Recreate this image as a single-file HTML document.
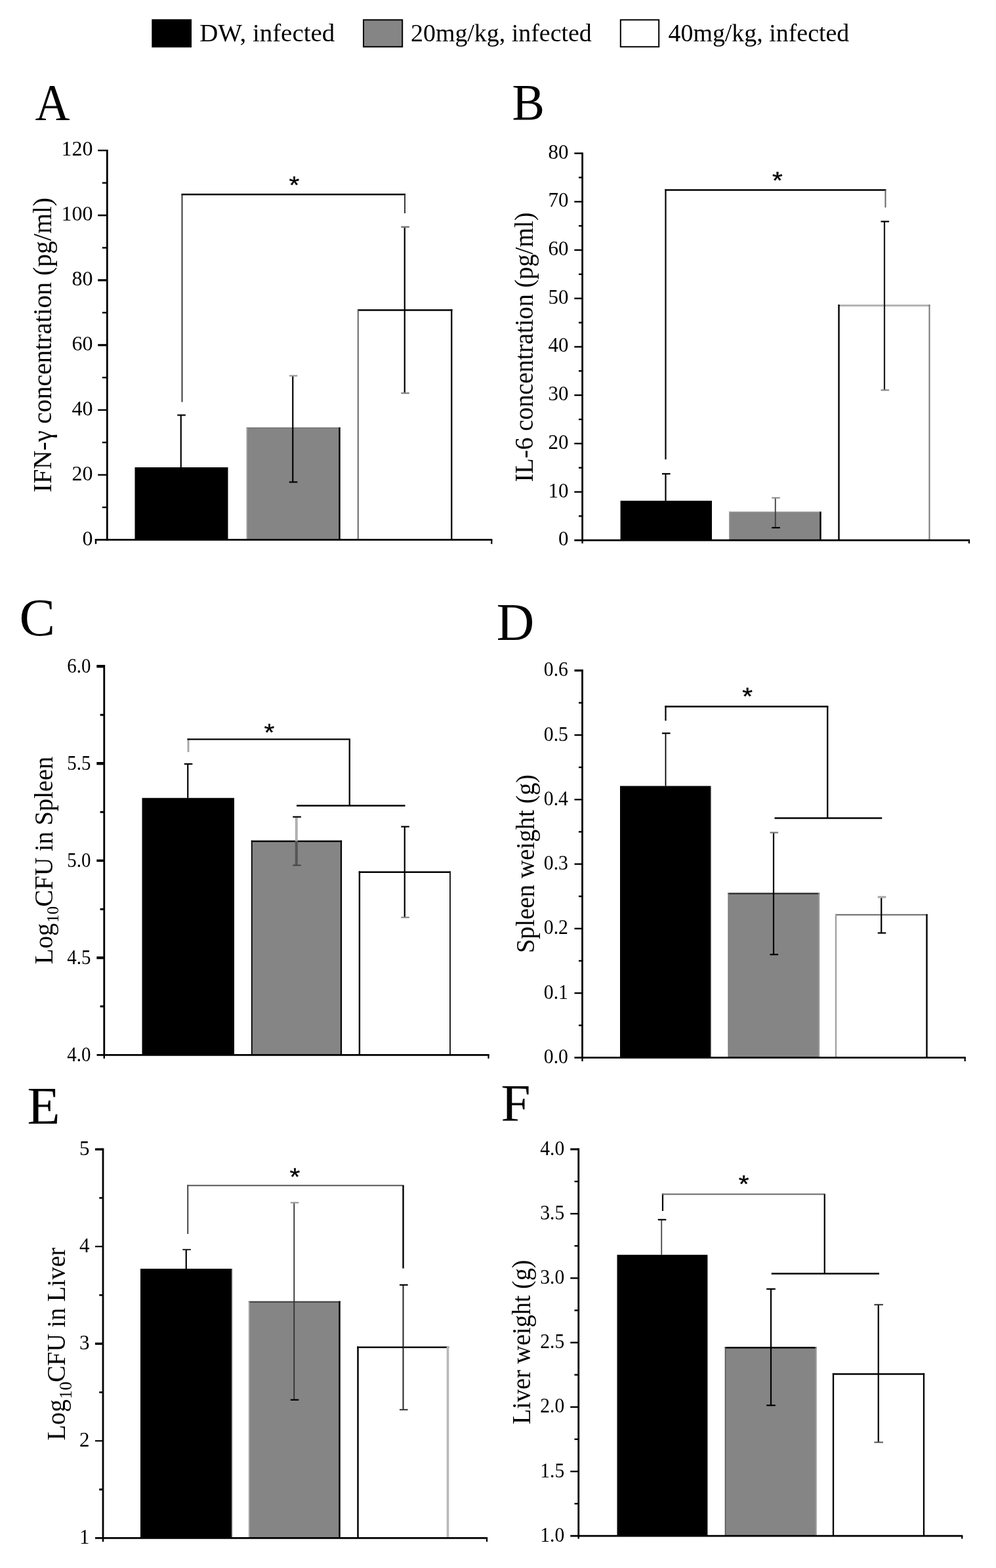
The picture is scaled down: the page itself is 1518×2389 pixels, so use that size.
<!DOCTYPE html>
<html lang="en">
<head>
<meta charset="utf-8">
<title>Figure: cytokine concentrations, bacterial load and organ weights</title>
<style>
html,body{margin:0;padding:0;background:#fff;}
body{width:1518px;height:2389px;overflow:hidden;}
svg{display:block;}
svg text{font-family:"Liberation Serif", serif;fill:#000;}
svg text.st{font-family:"Liberation Sans", sans-serif;stroke:#000;stroke-width:0.4px;}
</style>
</head>
<body>
<svg role="img" aria-label="Bar charts A to F" width="1518" height="2389" viewBox="0 0 1518 2389">
<defs>
<filter id="soft" filterUnits="userSpaceOnUse" x="0" y="0" width="1518" height="2389"><feGaussianBlur stdDeviation="0.5"/></filter>
</defs>
<rect x="0" y="0" width="1518" height="2389" fill="#fff"/>
<g filter="url(#soft)">
<!-- legend -->
<rect x="231.30" y="29.30" width="60.70" height="43.00" fill="#000"/>
<rect x="554.00" y="30.30" width="59.20" height="41.00" fill="#858585" stroke="#000" stroke-width="2"/>
<rect x="945.80" y="30.30" width="58.40" height="41.00" fill="#fff" stroke="#000" stroke-width="2"/>
<text x="304.20" y="63.40" font-size="38.5" textLength="206.0" lengthAdjust="spacingAndGlyphs">DW, infected</text>
<text x="626.00" y="63.40" font-size="38.5" textLength="275.8" lengthAdjust="spacingAndGlyphs">20mg/kg, infected</text>
<text x="1018.50" y="63.40" font-size="38.5" textLength="275.8" lengthAdjust="spacingAndGlyphs">40mg/kg, infected</text>
<!-- panel letters -->
<text x="53.50" y="182.30" font-size="79" textLength="53.0" lengthAdjust="spacingAndGlyphs">A</text>
<text x="780.40" y="182.30" font-size="78" textLength="49.5" lengthAdjust="spacingAndGlyphs">B</text>
<text x="29.40" y="968.10" font-size="80" textLength="54.5" lengthAdjust="spacingAndGlyphs">C</text>
<text x="756.70" y="975.40" font-size="80" textLength="57.5" lengthAdjust="spacingAndGlyphs">D</text>
<text x="41.40" y="1712.00" font-size="80" textLength="50.0" lengthAdjust="spacingAndGlyphs">E</text>
<text x="763.40" y="1708.00" font-size="80" textLength="45.0" lengthAdjust="spacingAndGlyphs">F</text>
<!-- chart A -->
<rect x="205.50" y="712.00" width="142.00" height="110.40" fill="#000"/>
<rect x="376.25" y="652.00" width="141.25" height="170.40" fill="#858585"/>
<line x1="375.45" y1="652.00" x2="518.70" y2="652.00" stroke="#6e6e6e" stroke-width="1.6"/>
<line x1="376.25" y1="651.20" x2="376.25" y2="822.40" stroke="#a8a8a8" stroke-width="1.6"/>
<line x1="517.50" y1="651.20" x2="517.50" y2="822.40" stroke="#000" stroke-width="2.4"/>
<rect x="545.75" y="472.50" width="142.50" height="349.90" fill="#fff"/>
<line x1="544.85" y1="472.50" x2="689.40" y2="472.50" stroke="#000" stroke-width="2.3"/>
<line x1="545.75" y1="471.35" x2="545.75" y2="822.40" stroke="#5a5a5a" stroke-width="1.8"/>
<line x1="688.25" y1="471.35" x2="688.25" y2="822.40" stroke="#000" stroke-width="2.3"/>
<line x1="149.20" y1="229.20" x2="163.30" y2="229.20" stroke="#000" stroke-width="2.4"/>
<line x1="155.80" y1="278.63" x2="163.30" y2="278.63" stroke="#000" stroke-width="2.4"/>
<text x="141.60" y="237.40" font-size="32" text-anchor="end">120</text>
<line x1="149.20" y1="328.07" x2="163.30" y2="328.07" stroke="#000" stroke-width="2.6"/>
<line x1="155.80" y1="377.50" x2="163.30" y2="377.50" stroke="#000" stroke-width="2.4"/>
<text x="141.60" y="336.27" font-size="32" text-anchor="end">100</text>
<line x1="149.20" y1="426.93" x2="163.30" y2="426.93" stroke="#000" stroke-width="3.2"/>
<line x1="155.80" y1="476.37" x2="163.30" y2="476.37" stroke="#000" stroke-width="2.4"/>
<text x="141.60" y="435.13" font-size="32" text-anchor="end">80</text>
<line x1="149.20" y1="525.80" x2="163.30" y2="525.80" stroke="#000" stroke-width="3.2"/>
<line x1="155.80" y1="575.23" x2="163.30" y2="575.23" stroke="#000" stroke-width="2.4"/>
<text x="141.60" y="534.00" font-size="32" text-anchor="end">60</text>
<line x1="149.20" y1="624.67" x2="163.30" y2="624.67" stroke="#000" stroke-width="2.4"/>
<line x1="155.80" y1="674.10" x2="163.30" y2="674.10" stroke="#000" stroke-width="2.4"/>
<text x="141.60" y="632.87" font-size="32" text-anchor="end">40</text>
<line x1="149.20" y1="723.53" x2="163.30" y2="723.53" stroke="#000" stroke-width="2.4"/>
<line x1="155.80" y1="772.97" x2="163.30" y2="772.97" stroke="#000" stroke-width="2.4"/>
<text x="141.60" y="731.73" font-size="32" text-anchor="end">20</text>
<text x="141.60" y="830.60" font-size="32" text-anchor="end">0</text>
<line x1="163.30" y1="228.00" x2="163.30" y2="823.70" stroke="#000" stroke-width="2.8"/>
<line x1="144.80" y1="822.40" x2="750.35" y2="822.40" stroke="#000" stroke-width="2.7"/>
<line x1="749.25" y1="822.40" x2="749.25" y2="828.80" stroke="#000" stroke-width="2.2"/>
<line x1="146.00" y1="822.40" x2="146.00" y2="828.80" stroke="#000" stroke-width="2.4"/>
<text transform="translate(77.50,750.30) rotate(-90)" font-size="40.5" textLength="449.3" lengthAdjust="spacingAndGlyphs">IFN-γ concentration (pg/ml)</text>
<line x1="275.75" y1="632.50" x2="275.75" y2="712.00" stroke="#000" stroke-width="2.2"/>
<line x1="270.25" y1="632.50" x2="282.85" y2="632.50" stroke="#000" stroke-width="2.2"/>
<line x1="446.25" y1="572.50" x2="446.25" y2="734.50" stroke="#000" stroke-width="2.2"/>
<line x1="440.75" y1="572.50" x2="453.35" y2="572.50" stroke="#9a9a9a" stroke-width="2.2"/>
<line x1="440.75" y1="734.50" x2="453.35" y2="734.50" stroke="#000" stroke-width="2.2"/>
<line x1="616.75" y1="345.75" x2="616.75" y2="599.00" stroke="#000" stroke-width="2.2"/>
<line x1="611.25" y1="345.75" x2="623.85" y2="345.75" stroke="#777" stroke-width="2.4"/>
<line x1="611.25" y1="599.00" x2="623.85" y2="599.00" stroke="#888" stroke-width="2.4"/>
<line x1="277.50" y1="295.10" x2="277.50" y2="612.50" stroke="#2a2a2a" stroke-width="1.8"/>
<line x1="276.60" y1="296.25" x2="618.10" y2="296.25" stroke="#000" stroke-width="2.3"/>
<line x1="617.00" y1="296.25" x2="617.00" y2="325.00" stroke="#3a3a3a" stroke-width="2"/>
<text x="448.40" y="295.20" font-size="36" text-anchor="middle" textLength="15.8" lengthAdjust="spacingAndGlyphs" class="st">*</text>
<!-- chart B -->
<rect x="945.60" y="762.90" width="139.40" height="60.30" fill="#000"/>
<rect x="1111.80" y="780.40" width="138.70" height="42.80" fill="#858585"/>
<line x1="1111.00" y1="780.40" x2="1251.70" y2="780.40" stroke="#8e8e8e" stroke-width="1.6"/>
<line x1="1111.80" y1="779.60" x2="1111.80" y2="823.20" stroke="#9a9a9a" stroke-width="1.6"/>
<line x1="1250.50" y1="779.60" x2="1250.50" y2="823.20" stroke="#000" stroke-width="2.4"/>
<rect x="1278.50" y="465.50" width="138.00" height="357.70" fill="#fff"/>
<line x1="1277.30" y1="465.50" x2="1417.50" y2="465.50" stroke="#b4b4b4" stroke-width="3"/>
<line x1="1278.50" y1="464.00" x2="1278.50" y2="823.20" stroke="#000" stroke-width="2.4"/>
<line x1="1416.50" y1="464.00" x2="1416.50" y2="823.20" stroke="#777" stroke-width="2"/>
<line x1="875.30" y1="233.60" x2="887.60" y2="233.60" stroke="#000" stroke-width="2.4"/>
<line x1="882.00" y1="270.45" x2="887.60" y2="270.45" stroke="#000" stroke-width="2.4"/>
<text x="866.60" y="241.60" font-size="31" text-anchor="end">80</text>
<line x1="875.30" y1="307.30" x2="887.60" y2="307.30" stroke="#000" stroke-width="2.4"/>
<line x1="882.00" y1="344.15" x2="887.60" y2="344.15" stroke="#000" stroke-width="2.4"/>
<text x="866.60" y="315.30" font-size="31" text-anchor="end">70</text>
<line x1="875.30" y1="381.00" x2="887.60" y2="381.00" stroke="#000" stroke-width="2.4"/>
<line x1="882.00" y1="417.85" x2="887.60" y2="417.85" stroke="#000" stroke-width="2.4"/>
<text x="866.60" y="389.00" font-size="31" text-anchor="end">60</text>
<line x1="875.30" y1="454.70" x2="887.60" y2="454.70" stroke="#000" stroke-width="2.4"/>
<line x1="882.00" y1="491.55" x2="887.60" y2="491.55" stroke="#000" stroke-width="2.4"/>
<text x="866.60" y="462.70" font-size="31" text-anchor="end">50</text>
<line x1="875.30" y1="528.40" x2="887.60" y2="528.40" stroke="#000" stroke-width="2.4"/>
<line x1="882.00" y1="565.25" x2="887.60" y2="565.25" stroke="#000" stroke-width="2.4"/>
<text x="866.60" y="536.40" font-size="31" text-anchor="end">40</text>
<line x1="875.30" y1="602.10" x2="887.60" y2="602.10" stroke="#000" stroke-width="2.4"/>
<line x1="882.00" y1="638.95" x2="887.60" y2="638.95" stroke="#000" stroke-width="2.4"/>
<text x="866.60" y="610.10" font-size="31" text-anchor="end">30</text>
<line x1="875.30" y1="675.80" x2="887.60" y2="675.80" stroke="#000" stroke-width="2.4"/>
<line x1="882.00" y1="712.65" x2="887.60" y2="712.65" stroke="#000" stroke-width="2.4"/>
<text x="866.60" y="683.80" font-size="31" text-anchor="end">20</text>
<line x1="875.30" y1="749.50" x2="887.60" y2="749.50" stroke="#000" stroke-width="2.4"/>
<line x1="882.00" y1="786.35" x2="887.60" y2="786.35" stroke="#000" stroke-width="2.4"/>
<text x="866.60" y="757.50" font-size="31" text-anchor="end">10</text>
<text x="866.60" y="831.20" font-size="31" text-anchor="end">0</text>
<line x1="887.60" y1="232.40" x2="887.60" y2="824.50" stroke="#000" stroke-width="2.8"/>
<line x1="875.30" y1="823.20" x2="1478.10" y2="823.20" stroke="#000" stroke-width="2.7"/>
<line x1="1477.00" y1="823.20" x2="1477.00" y2="828.00" stroke="#000" stroke-width="2.2"/>
<line x1="887.60" y1="823.20" x2="887.60" y2="828.00" stroke="#000" stroke-width="2.4"/>
<text transform="translate(812.30,734.50) rotate(-90)" font-size="39" textLength="411.0" lengthAdjust="spacingAndGlyphs">IL-6 concentration (pg/ml)</text>
<line x1="1014.50" y1="721.90" x2="1014.50" y2="762.90" stroke="#000" stroke-width="2.2"/>
<line x1="1009.00" y1="721.90" x2="1021.60" y2="721.90" stroke="#000" stroke-width="2.2"/>
<line x1="1181.75" y1="758.50" x2="1181.75" y2="804.00" stroke="#3a3a3a" stroke-width="1.8"/>
<line x1="1176.25" y1="758.50" x2="1188.85" y2="758.50" stroke="#888" stroke-width="2"/>
<line x1="1176.25" y1="804.00" x2="1188.85" y2="804.00" stroke="#000" stroke-width="2.2"/>
<line x1="1348.00" y1="337.50" x2="1348.00" y2="594.40" stroke="#1a1a1a" stroke-width="2.2"/>
<line x1="1342.50" y1="337.50" x2="1355.10" y2="337.50" stroke="#000" stroke-width="2.2"/>
<line x1="1342.50" y1="594.40" x2="1355.10" y2="594.40" stroke="#888" stroke-width="2.2"/>
<line x1="1014.50" y1="288.40" x2="1014.50" y2="700.00" stroke="#000" stroke-width="2.2"/>
<line x1="1013.40" y1="289.50" x2="1350.50" y2="289.50" stroke="#000" stroke-width="2.3"/>
<line x1="1349.50" y1="289.50" x2="1349.50" y2="316.25" stroke="#666" stroke-width="2"/>
<text x="1185.00" y="287.70" font-size="36" text-anchor="middle" textLength="15.8" lengthAdjust="spacingAndGlyphs" class="st">*</text>
<!-- chart C -->
<rect x="216.50" y="1215.75" width="140.50" height="391.55" fill="#000"/>
<rect x="383.75" y="1281.70" width="136.25" height="325.60" fill="#858585"/>
<line x1="382.85" y1="1281.70" x2="521.10" y2="1281.70" stroke="#000" stroke-width="2.4"/>
<line x1="383.75" y1="1280.50" x2="383.75" y2="1607.30" stroke="#000" stroke-width="1.8"/>
<line x1="520.00" y1="1280.50" x2="520.00" y2="1607.30" stroke="#000" stroke-width="2.2"/>
<rect x="547.90" y="1328.80" width="138.10" height="278.50" fill="#fff"/>
<line x1="546.70" y1="1328.80" x2="687.00" y2="1328.80" stroke="#000" stroke-width="2.4"/>
<line x1="547.90" y1="1327.60" x2="547.90" y2="1607.30" stroke="#000" stroke-width="2.4"/>
<line x1="686.00" y1="1327.60" x2="686.00" y2="1607.30" stroke="#222" stroke-width="2"/>
<line x1="147.30" y1="1015.20" x2="158.75" y2="1015.20" stroke="#000" stroke-width="4.4"/>
<line x1="152.60" y1="1089.21" x2="158.75" y2="1089.21" stroke="#000" stroke-width="3"/>
<text x="138.40" y="1025.20" font-size="30.5" text-anchor="end" textLength="36.2" lengthAdjust="spacingAndGlyphs">6.0</text>
<line x1="147.30" y1="1163.22" x2="158.75" y2="1163.22" stroke="#000" stroke-width="4.4"/>
<line x1="152.60" y1="1237.24" x2="158.75" y2="1237.24" stroke="#000" stroke-width="3"/>
<text x="138.40" y="1172.52" font-size="30.5" text-anchor="end" textLength="36.2" lengthAdjust="spacingAndGlyphs">5.5</text>
<line x1="147.30" y1="1311.25" x2="158.75" y2="1311.25" stroke="#000" stroke-width="3.6"/>
<line x1="152.60" y1="1385.26" x2="158.75" y2="1385.26" stroke="#000" stroke-width="3"/>
<text x="138.40" y="1320.75" font-size="30.5" text-anchor="end" textLength="36.2" lengthAdjust="spacingAndGlyphs">5.0</text>
<line x1="147.30" y1="1459.28" x2="158.75" y2="1459.28" stroke="#000" stroke-width="4"/>
<line x1="152.60" y1="1533.29" x2="158.75" y2="1533.29" stroke="#000" stroke-width="3"/>
<text x="138.40" y="1468.88" font-size="30.5" text-anchor="end" textLength="36.2" lengthAdjust="spacingAndGlyphs">4.5</text>
<text x="138.40" y="1617.30" font-size="30.5" text-anchor="end" textLength="36.2" lengthAdjust="spacingAndGlyphs">4.0</text>
<line x1="158.75" y1="1013.00" x2="158.75" y2="1608.60" stroke="#000" stroke-width="2.8"/>
<line x1="147.50" y1="1607.30" x2="745.60" y2="1607.30" stroke="#000" stroke-width="2.7"/>
<line x1="744.50" y1="1607.30" x2="744.50" y2="1612.80" stroke="#000" stroke-width="2.2"/>
<line x1="158.75" y1="1607.30" x2="158.75" y2="1612.80" stroke="#000" stroke-width="2.4"/>
<text transform="translate(79.80,1468.90) rotate(-90)" font-size="40.5" textLength="62.3" lengthAdjust="spacingAndGlyphs">Log</text>
<text transform="translate(89.10,1405.80) rotate(-90)" font-size="26" textLength="25.0" lengthAdjust="spacingAndGlyphs">10</text>
<text transform="translate(79.80,1381.40) rotate(-90)" font-size="40.5" textLength="228.6" lengthAdjust="spacingAndGlyphs">CFU in Spleen</text>
<line x1="286.25" y1="1164.00" x2="286.25" y2="1215.75" stroke="#000" stroke-width="2.2"/>
<line x1="280.75" y1="1164.00" x2="293.35" y2="1164.00" stroke="#000" stroke-width="2.2"/>
<line x1="451.75" y1="1244.60" x2="451.75" y2="1281.70" stroke="#b0b0b0" stroke-width="4"/>
<line x1="451.75" y1="1281.70" x2="451.75" y2="1318.40" stroke="#555" stroke-width="4"/>
<line x1="451.75" y1="1244.60" x2="451.75" y2="1318.40" stroke="none" stroke-width="0"/>
<line x1="446.25" y1="1244.60" x2="458.85" y2="1244.60" stroke="#000" stroke-width="2.2"/>
<line x1="446.25" y1="1318.40" x2="458.85" y2="1318.40" stroke="#444" stroke-width="2"/>
<line x1="616.75" y1="1259.50" x2="616.75" y2="1397.75" stroke="#000" stroke-width="2.2"/>
<line x1="611.25" y1="1259.50" x2="623.85" y2="1259.50" stroke="#000" stroke-width="2.2"/>
<line x1="611.25" y1="1397.75" x2="623.85" y2="1397.75" stroke="#888" stroke-width="2.2"/>
<line x1="287.00" y1="1125.20" x2="287.00" y2="1145.80" stroke="#aaa" stroke-width="3"/>
<line x1="285.50" y1="1126.30" x2="533.90" y2="1126.30" stroke="#000" stroke-width="2.3"/>
<line x1="532.75" y1="1126.30" x2="532.75" y2="1227.50" stroke="#000" stroke-width="2.3"/>
<line x1="452.00" y1="1227.50" x2="617.50" y2="1227.50" stroke="#000" stroke-width="2.3"/>
<text x="410.50" y="1129.20" font-size="36" text-anchor="middle" textLength="15.8" lengthAdjust="spacingAndGlyphs" class="st">*</text>
<!-- chart D -->
<rect x="945.00" y="1197.50" width="138.00" height="413.90" fill="#000"/>
<line x1="1083.60" y1="1197.50" x2="1083.60" y2="1611.40" stroke="#999" stroke-width="1.2"/>
<rect x="1110.10" y="1361.40" width="138.15" height="250.00" fill="#858585"/>
<line x1="1109.40" y1="1361.40" x2="1249.25" y2="1361.40" stroke="#2a2a2a" stroke-width="2.2"/>
<line x1="1110.10" y1="1360.30" x2="1110.10" y2="1611.40" stroke="#777" stroke-width="1.4"/>
<line x1="1248.25" y1="1360.30" x2="1248.25" y2="1611.40" stroke="#9a9a9a" stroke-width="2"/>
<rect x="1274.00" y="1393.80" width="138.50" height="217.60" fill="#fff"/>
<line x1="1273.00" y1="1393.80" x2="1413.70" y2="1393.80" stroke="#666" stroke-width="2"/>
<line x1="1274.00" y1="1392.80" x2="1274.00" y2="1611.40" stroke="#999" stroke-width="2"/>
<line x1="1412.50" y1="1392.80" x2="1412.50" y2="1611.40" stroke="#000" stroke-width="2.4"/>
<line x1="875.50" y1="1021.60" x2="887.50" y2="1021.60" stroke="#000" stroke-width="3.2"/>
<line x1="882.00" y1="1070.75" x2="887.50" y2="1070.75" stroke="#000" stroke-width="2.4"/>
<text x="866.00" y="1030.20" font-size="31" text-anchor="end" textLength="37.2" lengthAdjust="spacingAndGlyphs">0.6</text>
<line x1="875.50" y1="1119.90" x2="887.50" y2="1119.90" stroke="#000" stroke-width="2.4"/>
<line x1="882.00" y1="1169.05" x2="887.50" y2="1169.05" stroke="#000" stroke-width="2.4"/>
<text x="866.00" y="1128.50" font-size="31" text-anchor="end" textLength="37.2" lengthAdjust="spacingAndGlyphs">0.5</text>
<line x1="875.50" y1="1218.20" x2="887.50" y2="1218.20" stroke="#000" stroke-width="2.4"/>
<line x1="882.00" y1="1267.35" x2="887.50" y2="1267.35" stroke="#000" stroke-width="2.4"/>
<text x="866.00" y="1226.80" font-size="31" text-anchor="end" textLength="37.2" lengthAdjust="spacingAndGlyphs">0.4</text>
<line x1="875.50" y1="1316.50" x2="887.50" y2="1316.50" stroke="#000" stroke-width="2.4"/>
<line x1="882.00" y1="1365.65" x2="887.50" y2="1365.65" stroke="#000" stroke-width="2.4"/>
<text x="866.00" y="1325.10" font-size="31" text-anchor="end" textLength="37.2" lengthAdjust="spacingAndGlyphs">0.3</text>
<line x1="875.50" y1="1414.80" x2="887.50" y2="1414.80" stroke="#000" stroke-width="2.4"/>
<line x1="882.00" y1="1463.95" x2="887.50" y2="1463.95" stroke="#000" stroke-width="2.4"/>
<text x="866.00" y="1423.40" font-size="31" text-anchor="end" textLength="37.2" lengthAdjust="spacingAndGlyphs">0.2</text>
<line x1="875.50" y1="1513.10" x2="887.50" y2="1513.10" stroke="#000" stroke-width="2.4"/>
<line x1="882.00" y1="1562.25" x2="887.50" y2="1562.25" stroke="#000" stroke-width="2.4"/>
<text x="866.00" y="1521.70" font-size="31" text-anchor="end" textLength="37.2" lengthAdjust="spacingAndGlyphs">0.1</text>
<text x="866.00" y="1620.00" font-size="31" text-anchor="end" textLength="37.2" lengthAdjust="spacingAndGlyphs">0.0</text>
<line x1="887.50" y1="1020.00" x2="887.50" y2="1612.70" stroke="#000" stroke-width="2.8"/>
<line x1="875.50" y1="1611.40" x2="1471.85" y2="1611.40" stroke="#000" stroke-width="2.7"/>
<line x1="1470.75" y1="1611.40" x2="1470.75" y2="1617.00" stroke="#000" stroke-width="2.2"/>
<line x1="887.50" y1="1611.40" x2="887.50" y2="1617.00" stroke="#000" stroke-width="2.4"/>
<text transform="translate(814.30,1452.00) rotate(-90)" font-size="39" textLength="272.0" lengthAdjust="spacingAndGlyphs">Spleen weight (g)</text>
<line x1="1014.50" y1="1117.20" x2="1014.50" y2="1197.50" stroke="#000" stroke-width="1.8"/>
<line x1="1009.00" y1="1117.20" x2="1021.60" y2="1117.20" stroke="#000" stroke-width="2.2"/>
<line x1="1179.00" y1="1268.50" x2="1179.00" y2="1454.30" stroke="#000" stroke-width="2.2"/>
<line x1="1173.50" y1="1268.50" x2="1186.10" y2="1268.50" stroke="#777" stroke-width="2.2"/>
<line x1="1173.50" y1="1454.30" x2="1186.10" y2="1454.30" stroke="#000" stroke-width="2.2"/>
<line x1="1343.25" y1="1366.75" x2="1343.25" y2="1421.50" stroke="#000" stroke-width="2.2"/>
<line x1="1337.75" y1="1366.75" x2="1350.35" y2="1366.75" stroke="#aaa" stroke-width="3.2"/>
<line x1="1337.75" y1="1421.50" x2="1350.35" y2="1421.50" stroke="#000" stroke-width="2.2"/>
<line x1="1014.50" y1="1075.40" x2="1014.50" y2="1098.00" stroke="#000" stroke-width="2.2"/>
<line x1="1013.40" y1="1076.50" x2="1262.40" y2="1076.50" stroke="#000" stroke-width="2.3"/>
<line x1="1261.25" y1="1076.50" x2="1261.25" y2="1246.50" stroke="#000" stroke-width="2.3"/>
<line x1="1180.50" y1="1246.50" x2="1344.25" y2="1246.50" stroke="#000" stroke-width="2.5"/>
<text x="1139.25" y="1073.70" font-size="36" text-anchor="middle" textLength="15.8" lengthAdjust="spacingAndGlyphs" class="st">*</text>
<!-- chart E -->
<rect x="214.00" y="1933.00" width="139.25" height="410.40" fill="#000"/>
<line x1="353.90" y1="1933.00" x2="353.90" y2="2343.40" stroke="#999" stroke-width="1.2"/>
<rect x="379.50" y="1983.50" width="138.00" height="359.90" fill="#858585"/>
<line x1="378.70" y1="1983.50" x2="518.75" y2="1983.50" stroke="#3a3a3a" stroke-width="1.9"/>
<line x1="379.50" y1="1982.55" x2="379.50" y2="2343.40" stroke="#b4b4b4" stroke-width="1.6"/>
<line x1="517.50" y1="1982.55" x2="517.50" y2="2343.40" stroke="#000" stroke-width="2.5"/>
<rect x="545.50" y="2052.75" width="137.00" height="290.65" fill="#fff"/>
<line x1="544.25" y1="2052.75" x2="684.30" y2="2052.75" stroke="#000" stroke-width="2.5"/>
<line x1="545.50" y1="2051.50" x2="545.50" y2="2343.40" stroke="#000" stroke-width="2.5"/>
<line x1="682.50" y1="2051.50" x2="682.50" y2="2343.40" stroke="#b8b8b8" stroke-width="3.6"/>
<line x1="145.00" y1="1751.10" x2="157.00" y2="1751.10" stroke="#000" stroke-width="3.4"/>
<line x1="151.25" y1="1825.14" x2="157.00" y2="1825.14" stroke="#000" stroke-width="2.6"/>
<text x="136.40" y="1760.10" font-size="31" text-anchor="end">5</text>
<line x1="145.00" y1="1899.17" x2="157.00" y2="1899.17" stroke="#000" stroke-width="2.2"/>
<line x1="151.25" y1="1973.21" x2="157.00" y2="1973.21" stroke="#000" stroke-width="2.6"/>
<text x="136.40" y="1908.17" font-size="31" text-anchor="end">4</text>
<line x1="145.00" y1="2047.25" x2="157.00" y2="2047.25" stroke="#000" stroke-width="3.4"/>
<line x1="151.25" y1="2121.29" x2="157.00" y2="2121.29" stroke="#000" stroke-width="2.6"/>
<text x="136.40" y="2056.25" font-size="31" text-anchor="end">3</text>
<line x1="145.00" y1="2195.32" x2="157.00" y2="2195.32" stroke="#000" stroke-width="2.2"/>
<line x1="151.25" y1="2269.36" x2="157.00" y2="2269.36" stroke="#000" stroke-width="3"/>
<text x="136.40" y="2204.32" font-size="31" text-anchor="end">2</text>
<text x="136.40" y="2352.40" font-size="31" text-anchor="end">1</text>
<line x1="157.00" y1="1749.40" x2="157.00" y2="2344.70" stroke="#000" stroke-width="2.8"/>
<line x1="145.00" y1="2343.40" x2="743.10" y2="2343.40" stroke="#000" stroke-width="2.7"/>
<line x1="742.00" y1="2343.40" x2="742.00" y2="2349.00" stroke="#000" stroke-width="2.2"/>
<line x1="157.00" y1="2343.40" x2="157.00" y2="2349.00" stroke="#000" stroke-width="2.4"/>
<text transform="translate(99.30,2194.50) rotate(-90)" font-size="40.5" textLength="62.3" lengthAdjust="spacingAndGlyphs">Log</text>
<text transform="translate(109.30,2131.60) rotate(-90)" font-size="28" textLength="26.5" lengthAdjust="spacingAndGlyphs">10</text>
<text transform="translate(99.30,2106.10) rotate(-90)" font-size="40.5" textLength="205.4" lengthAdjust="spacingAndGlyphs">CFU in Liver</text>
<line x1="283.75" y1="1903.90" x2="283.75" y2="1933.00" stroke="#000" stroke-width="2.2"/>
<line x1="278.25" y1="1903.90" x2="290.85" y2="1903.90" stroke="#222" stroke-width="2"/>
<line x1="448.25" y1="1832.40" x2="448.25" y2="2132.80" stroke="#333" stroke-width="1.8"/>
<line x1="442.75" y1="1832.40" x2="455.35" y2="1832.40" stroke="#999" stroke-width="2.2"/>
<line x1="442.75" y1="2132.80" x2="455.35" y2="2132.80" stroke="#000" stroke-width="2.2"/>
<line x1="614.50" y1="1957.70" x2="614.50" y2="2147.80" stroke="#222" stroke-width="2"/>
<line x1="609.00" y1="1957.70" x2="621.60" y2="1957.70" stroke="#000" stroke-width="2.2"/>
<line x1="609.00" y1="2147.80" x2="621.60" y2="2147.80" stroke="#333" stroke-width="2"/>
<line x1="286.25" y1="1805.20" x2="286.25" y2="1880.00" stroke="#333" stroke-width="1.8"/>
<line x1="285.30" y1="1806.25" x2="615.60" y2="1806.25" stroke="#555" stroke-width="2"/>
<line x1="614.50" y1="1806.25" x2="614.50" y2="1932.50" stroke="#000" stroke-width="2.4"/>
<text x="449.50" y="1805.70" font-size="36" text-anchor="middle" textLength="15.8" lengthAdjust="spacingAndGlyphs" class="st">*</text>
<!-- chart F -->
<rect x="940.50" y="1911.80" width="137.90" height="428.30" fill="#000"/>
<rect x="1105.50" y="2053.20" width="138.25" height="286.90" fill="#858585"/>
<line x1="1104.70" y1="2053.20" x2="1244.75" y2="2053.20" stroke="#000" stroke-width="2.4"/>
<line x1="1105.50" y1="2052.00" x2="1105.50" y2="2340.10" stroke="#555" stroke-width="1.6"/>
<line x1="1243.75" y1="2052.00" x2="1243.75" y2="2340.10" stroke="#9a9a9a" stroke-width="2"/>
<rect x="1270.00" y="2093.50" width="138.00" height="246.60" fill="#fff"/>
<line x1="1268.85" y1="2093.50" x2="1409.15" y2="2093.50" stroke="#000" stroke-width="2.3"/>
<line x1="1270.00" y1="2092.35" x2="1270.00" y2="2340.10" stroke="#000" stroke-width="2.3"/>
<line x1="1408.00" y1="2092.35" x2="1408.00" y2="2340.10" stroke="#000" stroke-width="2.3"/>
<line x1="869.25" y1="1751.00" x2="881.75" y2="1751.00" stroke="#000" stroke-width="3"/>
<line x1="875.50" y1="1800.09" x2="881.75" y2="1800.09" stroke="#000" stroke-width="2.4"/>
<text x="860.20" y="1759.60" font-size="30.5" text-anchor="end" textLength="37.0" lengthAdjust="spacingAndGlyphs">4.0</text>
<line x1="869.25" y1="1849.18" x2="881.75" y2="1849.18" stroke="#000" stroke-width="2.4"/>
<line x1="875.50" y1="1898.28" x2="881.75" y2="1898.28" stroke="#000" stroke-width="2.4"/>
<text x="860.20" y="1857.78" font-size="30.5" text-anchor="end" textLength="37.0" lengthAdjust="spacingAndGlyphs">3.5</text>
<line x1="869.25" y1="1947.37" x2="881.75" y2="1947.37" stroke="#000" stroke-width="2.4"/>
<line x1="875.50" y1="1996.46" x2="881.75" y2="1996.46" stroke="#000" stroke-width="2.4"/>
<text x="860.20" y="1955.97" font-size="30.5" text-anchor="end" textLength="37.0" lengthAdjust="spacingAndGlyphs">3.0</text>
<line x1="869.25" y1="2045.55" x2="881.75" y2="2045.55" stroke="#000" stroke-width="2.4"/>
<line x1="875.50" y1="2094.64" x2="881.75" y2="2094.64" stroke="#000" stroke-width="2.4"/>
<text x="860.20" y="2054.15" font-size="30.5" text-anchor="end" textLength="37.0" lengthAdjust="spacingAndGlyphs">2.5</text>
<line x1="869.25" y1="2143.73" x2="881.75" y2="2143.73" stroke="#000" stroke-width="2.4"/>
<line x1="875.50" y1="2192.82" x2="881.75" y2="2192.82" stroke="#000" stroke-width="2.4"/>
<text x="860.20" y="2152.33" font-size="30.5" text-anchor="end" textLength="37.0" lengthAdjust="spacingAndGlyphs">2.0</text>
<line x1="869.25" y1="2241.92" x2="881.75" y2="2241.92" stroke="#000" stroke-width="2.4"/>
<line x1="875.50" y1="2291.01" x2="881.75" y2="2291.01" stroke="#000" stroke-width="2.4"/>
<text x="860.20" y="2250.52" font-size="30.5" text-anchor="end" textLength="37.0" lengthAdjust="spacingAndGlyphs">1.5</text>
<text x="860.20" y="2348.70" font-size="30.5" text-anchor="end" textLength="37.0" lengthAdjust="spacingAndGlyphs">1.0</text>
<line x1="881.75" y1="1749.50" x2="881.75" y2="2341.40" stroke="#000" stroke-width="2.8"/>
<line x1="869.25" y1="2340.10" x2="1467.35" y2="2340.10" stroke="#000" stroke-width="2.7"/>
<line x1="1466.25" y1="2340.10" x2="1466.25" y2="2344.50" stroke="#000" stroke-width="2.2"/>
<line x1="881.75" y1="2340.10" x2="881.75" y2="2344.50" stroke="#000" stroke-width="2.4"/>
<text transform="translate(807.60,2170.00) rotate(-90)" font-size="39" textLength="250.5" lengthAdjust="spacingAndGlyphs">Liver weight (g)</text>
<line x1="1008.25" y1="1858.30" x2="1008.25" y2="1911.80" stroke="#444" stroke-width="1.8"/>
<line x1="1002.75" y1="1858.30" x2="1015.35" y2="1858.30" stroke="#000" stroke-width="2.2"/>
<line x1="1175.00" y1="1963.90" x2="1175.00" y2="2141.20" stroke="#000" stroke-width="2.2"/>
<line x1="1168.20" y1="1963.90" x2="1181.80" y2="1963.90" stroke="#000" stroke-width="2.2"/>
<line x1="1168.20" y1="2141.20" x2="1181.80" y2="2141.20" stroke="#000" stroke-width="2.2"/>
<line x1="1338.75" y1="1987.80" x2="1338.75" y2="2197.50" stroke="#000" stroke-width="2.2"/>
<line x1="1332.35" y1="1987.80" x2="1345.95" y2="1987.80" stroke="#333" stroke-width="2"/>
<line x1="1332.35" y1="2197.50" x2="1345.95" y2="2197.50" stroke="#555" stroke-width="2"/>
<line x1="1010.00" y1="1818.50" x2="1010.00" y2="1845.00" stroke="#000" stroke-width="2.2"/>
<line x1="1008.90" y1="1819.50" x2="1257.90" y2="1819.50" stroke="#666" stroke-width="2"/>
<line x1="1256.75" y1="1819.50" x2="1256.75" y2="1940.50" stroke="#000" stroke-width="2.2"/>
<line x1="1175.75" y1="1940.50" x2="1340.00" y2="1940.50" stroke="#000" stroke-width="2.5"/>
<text x="1133.75" y="1816.70" font-size="36" text-anchor="middle" textLength="15.8" lengthAdjust="spacingAndGlyphs" class="st">*</text>
</g>
</svg>
</body>
</html>
